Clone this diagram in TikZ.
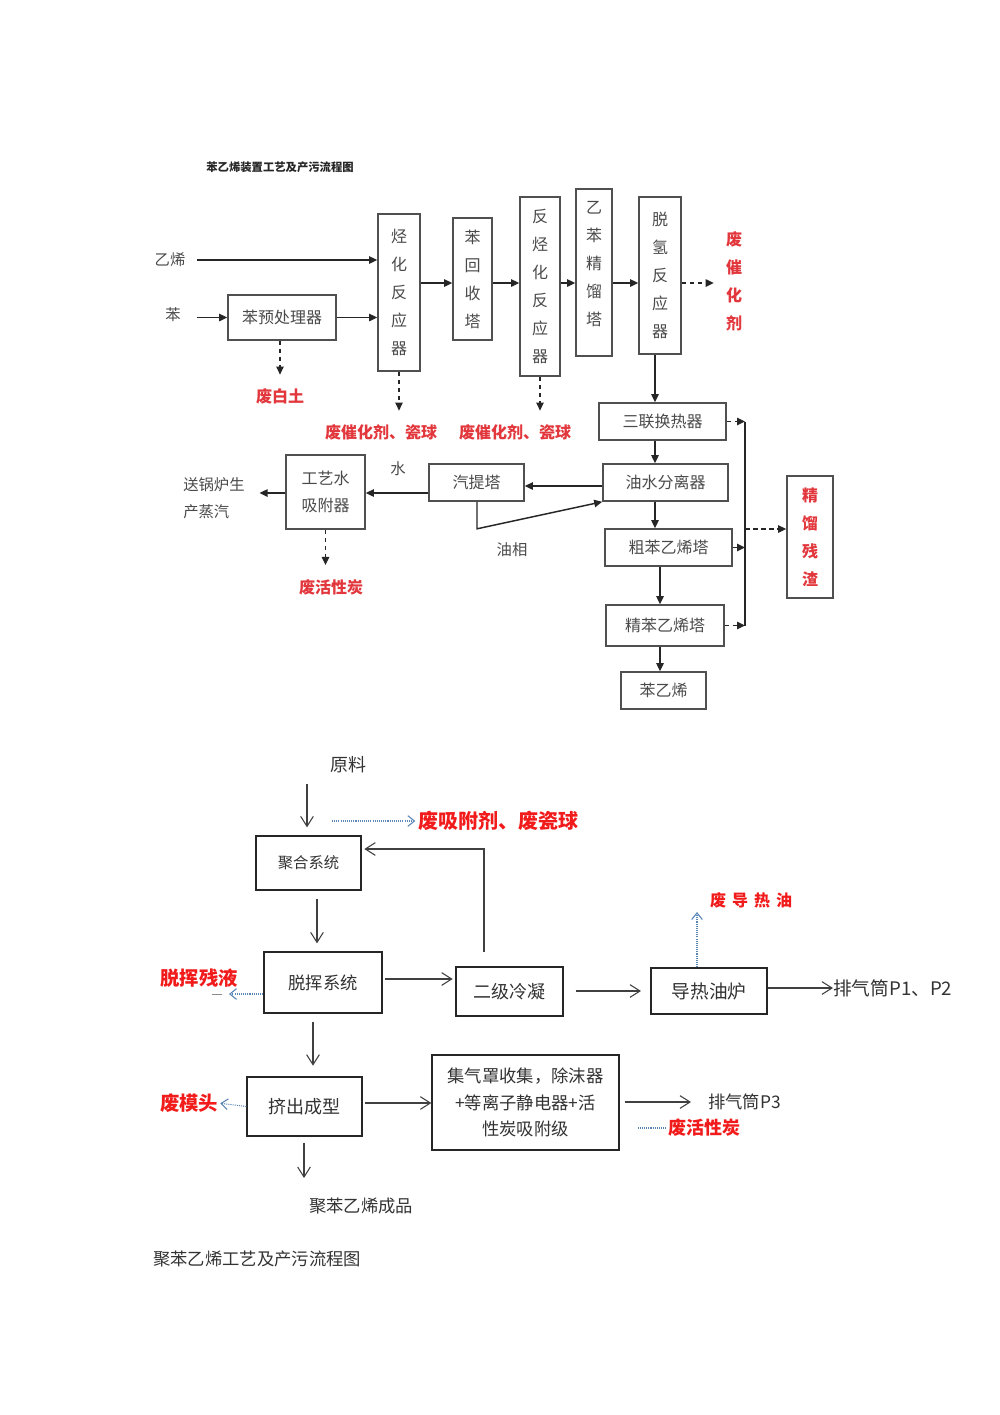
\documentclass[tikz,border=0pt]{standalone}
\usepackage{fontspec}
\newfontfamily\cjk{Noto Sans CJK SC}
\usetikzlibrary{arrows.meta}
\definecolor{boxgray}{HTML}{505050}
\definecolor{txtgray}{HTML}{4A4A4A}
\definecolor{upred}{HTML}{E2373C}
\definecolor{lowred}{HTML}{F21B1B}
\definecolor{dotblue}{HTML}{5A86B8}
\definecolor{lowtxt}{HTML}{333333}
\begin{document}
\begin{tikzpicture}[x=0.75pt,y=-0.75pt,
  wh/.style 2 args={minimum width=#1*0.75pt, minimum height=#2*0.75pt},
  ubox/.style={draw=boxgray, line width=1.2pt, inner sep=0pt, text=txtgray,
    font=\cjk\fontsize{12pt}{21pt}\selectfont, align=center},
  utxt/.style={inner sep=0pt, text=txtgray, font=\cjk\fontsize{11.5pt}{20pt}\selectfont, align=left},
  ured/.style={inner sep=0pt, text=upred, font=\cjk\bfseries\fontsize{12pt}{21pt}\selectfont, align=center},
  uline/.style={draw=black!85, line width=1.1pt},
  uarr/.style={uline, -{Triangle[length=6pt,width=5.5pt]}},
  udash/.style={uarr, dash pattern=on 3.5pt off 2.5pt},
  lbox/.style={draw=black!85, line width=1pt, inner sep=0pt, text=lowtxt,
    font=\cjk\fontsize{13pt}{20pt}\selectfont, align=center},
  ltxt/.style={inner sep=0pt, text=lowtxt, font=\cjk\fontsize{13pt}{20pt}\selectfont},
  lred/.style={inner sep=0pt, text=lowred, font=\cjk\bfseries\fontsize{14.5pt}{18pt}\selectfont},
  larr/.style={draw=black!75, line width=0.8pt, -{Straight Barb[length=7.5pt,width=9.5pt]}},
  bdot/.style={draw=dotblue, line width=0.8pt, dash pattern=on 0.8pt off 0.8pt},
  barr/.style={bdot, -{Straight Barb[length=5pt,width=8pt]}}
]
\fill[white] (0,0) rectangle (1000,1415);
\useasboundingbox (0,0) rectangle (1000,1415);

% ================= upper diagram =================
\node[inner sep=0pt, text=black!85, font=\cjk\bfseries\fontsize{8.5pt}{10pt}\selectfont] (title) at (280,167) {苯乙烯装置工艺及产污流程图};

\node[utxt] (eth) at (170,260) {乙烯};
\node[utxt] (ben) at (173,315) {苯};
\node[ubox, wh={108}{45}] (pre) at (282,317.5) {苯预处理器};
\node[ubox, wh={42}{157}] (alk) at (399,292.5) {烃\\化\\反\\应\\器};
\node[ubox, wh={39}{122}] (brc) at (472.5,279) {苯\\回\\收\\塔};
\node[ubox, wh={40}{179}] (trans) at (540,286.5) {反\\烃\\化\\反\\应\\器};
\node[ubox, wh={36}{167}] (ebd) at (594,272.5) {乙\\苯\\精\\馏\\塔\\[-8pt]};
\node[ubox, wh={42}{157}] (dehy) at (660,275.5) {脱\\氢\\反\\应\\器};
\node[ured] (wcat) at (734,281) {废\\催\\化\\剂};
\node[ured] (wclay) at (280,396) {废白土};
\node[ured] (wc1) at (381,432) {废催化剂、瓷球};
\node[ured] (wc2) at (515,432) {废催化剂、瓷球};

\node[ubox, wh={127}{37}] (hx) at (662.5,421.5) {三联换热器};
\node[ubox, wh={125}{37}] (sep) at (665.5,482.5) {油水分离器};
\node[ubox, wh={95}{37}] (strip) at (476.5,482.5) {汽提塔};
\node[ubox, wh={79}{74}, font=\cjk\fontsize{12pt}{20pt}\selectfont] (wad) at (325.5,492) {工艺水\\吸附器};
\node[ubox, wh={127}{37}] (crude) at (668.5,547.5) {粗苯乙烯塔};
\node[ubox, wh={118}{41}] (fine) at (665,625.5) {精苯乙烯塔};
\node[ubox, wh={85}{37}] (sty) at (663.5,690.5) {苯乙烯};
\node[ubox, wh={46}{122}, text=upred, font=\cjk\bfseries\fontsize{12pt}{21pt}\selectfont] (res) at (810,537) {精\\馏\\残\\渣};

\node[utxt] (water) at (398,469) {水};
\node[utxt, anchor=west] (steam) at (183,498.5) {送锅炉生\\产蒸汽};
\node[utxt] (oil) at (512,550) {油相};
\node[ured] (wac) at (331,587) {废活性炭};

\coordinate (yrow) at (0,283);
\coordinate (xd) at (655,0);
\coordinate (xf) at (660,0);
\coordinate (xs) at (477,0);
\coordinate (xr) at (745,0);
\coordinate (y486) at (0,486);
\coordinate (y493) at (0,493);
\coordinate (y529) at (0,529);

\draw[uarr, shorten <=8.5pt] (eth.east) -- (alk.west |- eth.east);
\draw[uarr, shorten <=12pt] (ben.east |- pre.west) -- (pre.west);
\draw[uarr] (pre.east) -- (alk.west |- pre.east);
\draw[udash, shorten >=10pt] (pre.south -| wclay.north) -- (wclay.north);
\draw[uarr] (alk.east |- yrow) -- (brc.west |- yrow);
\draw[uarr] (brc.east |- yrow) -- (trans.west |- yrow);
\draw[uarr] (trans.east |- yrow) -- (ebd.west |- yrow);
\draw[uarr] (ebd.east |- yrow) -- (dehy.west |- yrow);
\draw[udash, shorten >=9pt] (dehy.east |- yrow) -- (wcat.west |- yrow);
\draw[udash, shorten >=10pt] (alk.south) -- (alk.south |- wc1.north);
\draw[udash, shorten >=10pt] (trans.south) -- (trans.south |- wc2.north);

\draw[uarr] (dehy.south -| xd) -- (hx.north -| xd);
\draw[uarr] (hx.south -| xd) -- (sep.north -| xd);
\draw[uarr] (sep.west |- y486) -- (strip.east |- y486);
\draw[uarr] (strip.south -| xs) -- ++(0,27) -- (sep.south west);
\draw[uarr] (strip.west |- y493) -- (wad.east |- y493);
\draw[uarr, shorten >=11pt] (wad.west |- y493) -- (steam.east |- y493);
\draw[udash, shorten >=10.5pt] (wad.south) -- (wad.south |- wac.north);
\draw[uarr] (sep.south -| xd) -- (crude.north -| xd);
\draw[uarr] (crude.south -| xf) -- (fine.north -| xf);
\draw[uarr] (fine.south -| xf) -- (sty.north -| xf);

\draw[udash] (hx.east) -- (hx.east -| xr);
\draw[udash] (crude.east) -- (crude.east -| xr);
\draw[udash] (fine.east) -- (fine.east -| xr);
\draw[uline] (hx.east -| xr) -- (fine.east -| xr);
\draw[udash] (xr |- y529) -- (res.west |- y529);

% ================= lower diagram =================
\node[ltxt, font=\cjk\fontsize{13.5pt}{20pt}\selectfont] (raw) at (348,765) {原料};
\node[lbox, wh={105}{54}, font=\cjk\fontsize{11.5pt}{16pt}\selectfont] (poly) at (308.5,863) {聚合系统};
\node[lbox, wh={118}{61}] (dv) at (323,982.5) {脱挥系统};
\node[lbox, wh={107}{49}, font=\cjk\fontsize{13.5pt}{16pt}\selectfont] (cond) at (509.5,991.5) {二级冷凝};
\node[lbox, wh={116}{46}, font=\cjk\fontsize{14pt}{16pt}\selectfont] (furn) at (709,991) {导热油炉};
\node[lbox, wh={115}{59}, font=\cjk\fontsize{13.5pt}{16pt}\selectfont] (ext) at (304.5,1106.5) {挤出成型};
\node[lbox, wh={187}{95}] (gas) at (525.5,1102.5) {集气罩收集，除沫器\\+等离子静电器+活\\性炭吸附级};

\node[lred, font=\cjk\bfseries\fontsize{15pt}{18pt}\selectfont, anchor=west] (wads) at (418,821) {废吸附剂、废瓷球};
\node[lred, font=\cjk\bfseries\fontsize{12pt}{16pt}\selectfont] (wto) at (751,900) {废\hspace{4.5pt}导\hspace{4.5pt}热\hspace{4.5pt}油};
\node[lred] (wres) at (199,978) {脱挥残液};
\node[lred] (wmold) at (189,1103) {废模头};
\node[lred, font=\cjk\bfseries\fontsize{13.5pt}{18pt}\selectfont, anchor=west] (wac2) at (668,1128) {废活性炭};
\node[ltxt, anchor=west, font=\cjk\fontsize{14pt}{20pt}\selectfont] (p12) at (833,988) {排气筒P1、P2};
\node[ltxt, anchor=west] (p3) at (708,1102) {排气筒P3};
\node[ltxt] (prod) at (361,1206) {聚苯乙烯成品};
\node[ltxt, anchor=west] (cap) at (153,1259) {聚苯乙烯工艺及产污流程图};

\coordinate (rawin) at (307,784);
\coordinate (bl1) at (332,821);
\coordinate (xfb) at (484,0);
\coordinate (yfb) at (0,849);
\coordinate (x317) at (317,0);
\coordinate (x313) at (313,0);
\coordinate (x697) at (697,0);
\coordinate (y979) at (0,979);
\coordinate (y991) at (0,991);
\coordinate (y994) at (0,994);
\coordinate (y1103) at (0,1103);
\coordinate (dvres) at (229,994);
\coordinate (dash1) at (212,994);
\coordinate (dash2) at (222,994);
\coordinate (prodin) at (304,1178);

\draw[larr, shorten >=6pt] (rawin) -- (rawin |- poly.north);
\draw[barr, shorten >=2pt] (bl1) -- (wads.west);
\draw[larr, shorten <=11pt, shorten >=2pt] (cond.north -| xfb) -- (xfb |- yfb) -- (poly.east |- yfb);
\draw[larr, shorten <=6pt, shorten >=6pt] (poly.south -| x317) -- (dv.north -| x317);
\draw[larr, shorten <=1.5pt, shorten >=2pt] (dv.east |- y979) -- (cond.west |- y979);
\draw[larr, shorten <=9pt, shorten >=7pt] (cond.east |- y991) -- (furn.west |- y991);
\draw[barr, shorten >=3pt] (furn.north -| x697) -- (x697 |- wto.south);
\draw[larr] (furn.east |- p12.west) -- (p12.west);
\draw[barr] (dv.west |- y994) -- (dvres);
\draw[draw=black!45, line width=0.7pt] (dash1) -- (dash2);
\draw[larr, shorten <=6pt, shorten >=8pt] (dv.south -| x313) -- (ext.north -| x313);
\draw[barr, shorten >=1.5pt] (ext.west) -- (wmold.east);
\draw[larr, shorten <=4.5pt] (ext.south -| prodin) -- (prodin);
\draw[larr, shorten <=1.5pt] (ext.east |- y1103) -- (gas.west |- y1103);
\draw[larr, shorten <=3.75pt, shorten >=12.75pt] (gas.east |- p3.west) -- (p3.west);
\draw[bdot, shorten <=13.5pt, shorten >=1pt] (gas.east |- wac2.west) -- (wac2.west);
\end{tikzpicture}
\end{document}
